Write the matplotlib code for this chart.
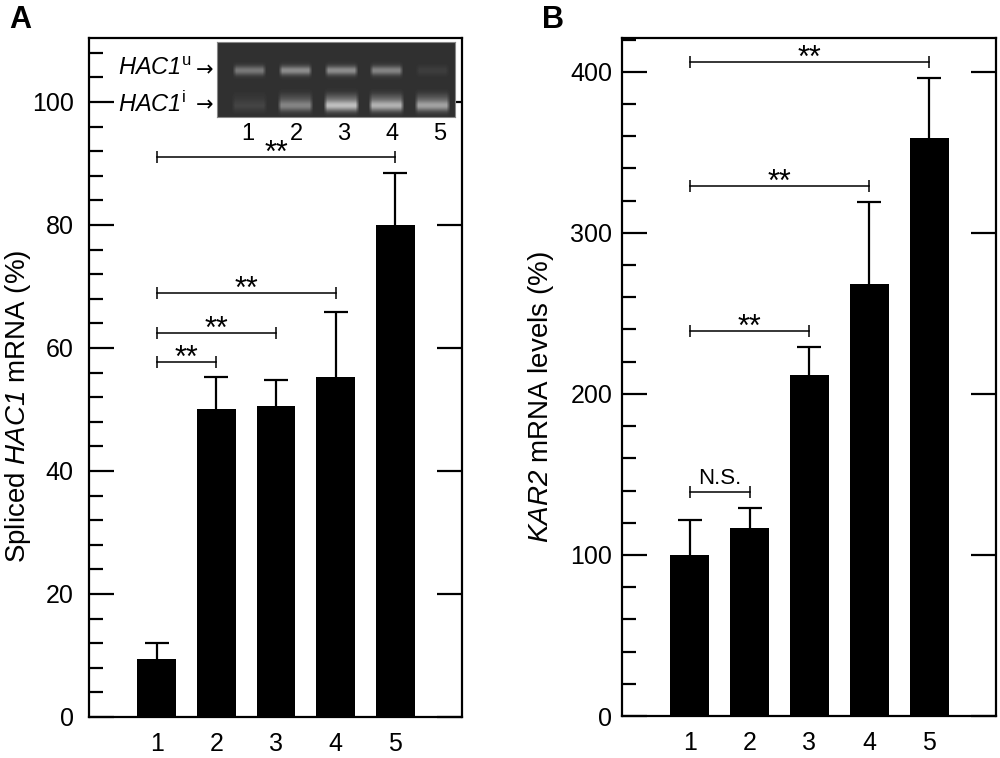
import matplotlib
matplotlib.use("Agg")
import numpy as np
import matplotlib.pyplot as plt
from matplotlib.ticker import MultipleLocator

plt.rcParams['font.family'] = ['Liberation Sans', 'DejaVu Sans']
plt.rcParams['mathtext.fontset'] = 'custom'
plt.rcParams['mathtext.rm'] = 'Liberation Sans'
plt.rcParams['mathtext.it'] = 'Liberation Sans:italic'
plt.rcParams['mathtext.sf'] = 'Liberation Sans:italic'

# ---------------- data ----------------
lanes = [1, 2, 3, 4, 5]
spliced_hac1 = [9.5, 50.0, 50.5, 55.3, 80.0]
spliced_hac1_err = [2.5, 5.3, 4.3, 10.6, 8.5]
kar2_levels = [100, 117, 212, 268, 359]
kar2_err = [22, 12, 17, 51, 37]

# significance brackets: (start, end, height, label)
sig_a = [(1, 2, 57.7, "**"), (1, 3, 62.4, "**"), (1, 4, 69.0, "**"), (1, 5, 91.0, "**")]
sig_b = [(1, 2, 139, "N.S."), (1, 3, 239, "**"), (1, 4, 329, "**"), (1, 5, 406, "**")]

# gel band intensities (0-1) for unspliced (u) and spliced (i) HAC1
band_u = [0.45, 0.58, 0.58, 0.53, 0.08]
band_i = [0.12, 0.52, 0.88, 0.80, 0.70]

fig = plt.figure(figsize=(10, 7.58), dpi=100)
W, H = 1000, 758


def frac(x0, y0, x1, y1):
    return [x0 / W, 1 - y1 / H, (x1 - x0) / W, (y1 - y0) / H]


axA = fig.add_axes(frac(89, 38, 462, 717))
axB = fig.add_axes(frac(622, 38, 996, 716))


def style(ax, ymax, major, minor, ypad):
    ax.set_xlim(-0.133, 6.117)
    ax.set_ylim(0, ymax)
    for s in ax.spines.values():
        s.set_linewidth(1.6)
    ax.set_xticks(lanes)
    ax.set_xticklabels([str(l) for l in lanes])
    ax.yaxis.set_major_locator(MultipleLocator(major))
    ax.yaxis.set_minor_locator(MultipleLocator(minor))
    ax.tick_params(axis='x', length=0, pad=11, labelsize=18)
    ax.tick_params(axis='y', which='major', direction='in', length=18, width=1.6,
                   right=True, labelsize=18, pad=ypad)
    ax.tick_params(axis='y', which='minor', direction='in', length=10, width=1.6,
                   right=False)


def bars(ax, vals, errs):
    tops = [v + e for v, e in zip(vals, errs)]
    ax.bar(lanes, vals, width=0.65, color='black', zorder=2)
    ax.vlines(lanes, vals, tops, color='black', lw=1.6, zorder=1)
    ax.plot(lanes, tops, ls='none', marker='_', markersize=17, mew=1.6,
            color='black', zorder=1)


def brackets(ax, sigs):
    for x1, x2, y, lab in sigs:
        ax.plot([x1, x2], [y, y], color='black', lw=1.1, marker='|',
                markersize=8, mew=1.1, zorder=3)
        if lab == "**":
            ax.annotate(lab, ((x1 + x2) / 2, y), xytext=(0, -3.5),
                        textcoords='offset points', ha='center', va='baseline',
                        fontsize=22)
        else:
            ax.annotate(lab, ((x1 + x2) / 2, y), xytext=(0, 6),
                        textcoords='offset points', ha='center', va='baseline',
                        fontsize=16)


style(axA, 110.4, 20, 4, 11)
bars(axA, spliced_hac1, spliced_hac1_err)
brackets(axA, sig_a)
axA.set_ylabel(r"Spliced $\mathsf{HAC1}$ mRNA (%)", fontsize=20)
axA.yaxis.set_label_coords(-0.150, 0.458)

style(axB, 421, 100, 20, 7)
bars(axB, kar2_levels, kar2_err)
brackets(axB, sig_b)
axB.set_ylabel(r"$\mathsf{KAR2}$ mRNA levels (%)", fontsize=20)
axB.yaxis.set_label_coords(-0.176, 0.470)

fig.text(20 / W, 1 - 20 / H, "A", fontsize=22, fontweight='bold', ha='center', va='center')
fig.text(553 / W, 1 - 20 / H, "B", fontsize=22, fontweight='bold', ha='center', va='center')

# ---------------- gel inset ----------------
gel = fig.add_axes(frac(217, 42, 455, 117))
gw, gh = 238, 75
bg = 0.19
xx = np.arange(gw)[None, :]
yy = np.arange(gh)[:, None]
img = np.full((gh, gw), bg)
lane_px = [32, 78, 124, 169, 215]
for cx, iu, ii in zip(lane_px, band_u, band_i):
    hx_u = np.clip((17 - np.abs(xx - cx)) / 4.0, 0, 1)
    hx_i = np.clip((18 - np.abs(xx - cx)) / 4.0, 0, 1)
    vy_u = np.exp(-((yy - 28) / 4.5) ** 2)
    vy_i = np.exp(-((yy - 63) / 5.5) ** 2) + 0.25 * np.exp(-((yy - 55) / 5.0) ** 2)
    img += iu * 0.62 * hx_u * vy_u + ii * 0.62 * hx_i * vy_i
img = np.clip(img, 0, 1)
gel.imshow(img, cmap='gray', vmin=0, vmax=1, aspect='auto', interpolation='bilinear')
gel.set_xticks([])
gel.set_yticks([])
for s in gel.spines.values():
    s.set_color('#888888')
    s.set_linewidth(0.8)

for lane in lanes:
    x = 248 + 48 * (lane - 1)
    fig.text(x / W, 1 - 134 / H, str(lane), fontsize=17, ha='center', va='center')

fig.text(191 / W, 1 - 69 / H, r"$\mathsf{HAC1}^{\mathrm{u}}$", fontsize=17,
         ha='right', va='center')
fig.text(213 / W, 1 - 70 / H, "→", fontsize=15, family='DejaVu Sans',
         ha='right', va='center')
fig.text(186 / W, 1 - 104 / H, r"$\mathsf{HAC1}^{\mathrm{i}}$", fontsize=17,
         ha='right', va='center')
fig.text(213 / W, 1 - 105 / H, "→", fontsize=15, family='DejaVu Sans',
         ha='right', va='center')

fig.savefig("out.png", dpi=100)
